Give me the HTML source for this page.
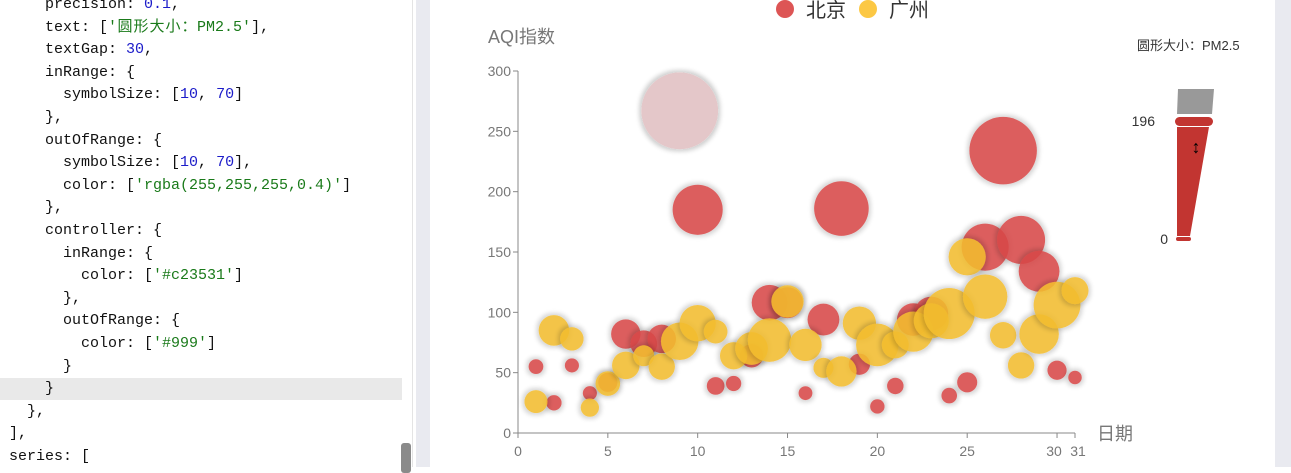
<!DOCTYPE html>
<html><head><meta charset="utf-8"><style>
html,body{margin:0;padding:0;width:1291px;height:467px;overflow:hidden;background:#fff;font-family:"Liberation Sans","Noto Sans CJK SC",sans-serif}
#code{position:absolute;left:0;top:0;width:403px;height:467px;overflow:hidden;background:#fff}
.ln{position:absolute;left:0;width:402px;height:22.6px;line-height:22.6px;font-family:"Liberation Mono","Noto Sans CJK SC",monospace;font-size:15px;color:#111;white-space:pre}
.n{color:#1c1cc9}.s{color:#1a7a1a}
.w{display:inline-block;width:16px;text-align:center}
#hl{position:absolute;left:0;top:378px;width:402px;height:22px;background:#e9e9e9}
#sep{position:absolute;left:412px;top:0;width:1px;height:467px;background:#e4e4e4}
#gap{position:absolute;left:416px;top:0;width:14px;height:467px;background:#e9eaf0}
#gapr{position:absolute;left:1275px;top:0;width:16px;height:467px;background:#e9eaf0}
#thumb{position:absolute;left:401px;top:443px;width:10px;height:30px;border-radius:3px;background:#8a8a8a}
svg{position:absolute;left:0;top:0}
</style></head><body>
<div id="code">
<div id="hl"></div>
<div class="ln" style="top:-6px">     precision: <span class="n">0.1</span>,</div>
<div class="ln" style="top:16.6px">     text: [<span class="s">'<span class="w">圆</span><span class="w">形</span><span class="w">大</span><span class="w">小</span><span class="w">：</span>PM2.5'</span>],</div>
<div class="ln" style="top:39.2px">     textGap: <span class="n">30</span>,</div>
<div class="ln" style="top:61.8px">     inRange: {</div>
<div class="ln" style="top:84.4px">       symbolSize: [<span class="n">10</span>, <span class="n">70</span>]</div>
<div class="ln" style="top:107px">     },</div>
<div class="ln" style="top:129.6px">     outOfRange: {</div>
<div class="ln" style="top:152.2px">       symbolSize: [<span class="n">10</span>, <span class="n">70</span>],</div>
<div class="ln" style="top:174.8px">       color: [<span class="s">'rgba(255,255,255,0.4)'</span>]</div>
<div class="ln" style="top:197.4px">     },</div>
<div class="ln" style="top:220px">     controller: {</div>
<div class="ln" style="top:242.6px">       inRange: {</div>
<div class="ln" style="top:265.2px">         color: [<span class="s">'#c23531'</span>]</div>
<div class="ln" style="top:287.8px">       },</div>
<div class="ln" style="top:310.4px">       outOfRange: {</div>
<div class="ln" style="top:333px">         color: [<span class="s">'#999'</span>]</div>
<div class="ln" style="top:355.6px">       }</div>
<div class="ln" style="top:378.2px">     }</div>
<div class="ln" style="top:400.8px">   },</div>
<div class="ln" style="top:423.4px"> ],</div>
<div class="ln" style="top:446px"> series: [</div>
</div>
<div id="thumb"></div>
<div id="sep"></div>
<div id="gap"></div>
<div id="gapr"></div>
<svg id="chart" width="1291" height="467">
<defs><filter id="halo" x="-50%" y="-50%" width="200%" height="200%"><feMorphology in="SourceAlpha" operator="dilate" radius="2" result="d"/><feGaussianBlur in="d" stdDeviation="2.5"/><feComponentTransfer><feFuncA type="linear" slope="0.2"/></feComponentTransfer><feMerge><feMergeNode/><feMergeNode in="SourceGraphic"/></feMerge></filter></defs>
<g id="axes"></g><g id="marks"></g>
<g>
<circle cx="785" cy="9" r="9" fill="#dd5555"/>
<text x="806" y="17" font-size="20" fill="#333">北京</text>
<circle cx="868" cy="9" r="9" fill="#fcc844"/>
<text x="889" y="17" font-size="20" fill="#333">广州</text>
</g>
<text x="488" y="43" font-size="18" fill="#777">AQI指数</text>
<text x="1097" y="440" font-size="18" fill="#777">日期</text>
<g>
<text x="1137" y="50" font-size="13" fill="#333">圆形大小：PM2.5</text>
<path d="M1178 89 L1214 89 L1212 114 L1177 114 Z" fill="#999"/>
<path d="M1177 127 L1209 127 L1190 236 L1177 236 Z" fill="#c23531"/>
<rect x="1175" y="117" width="38" height="9" rx="4.5" fill="#c23531"/>
<rect x="1176" y="237" width="15" height="4" rx="2" fill="#c23531"/>
<text x="1155" y="126" font-size="14" fill="#333" text-anchor="end">196</text>
<text x="1168" y="244" font-size="14" fill="#333" text-anchor="end">0</text>
<text x="1196" y="153" font-size="18" text-anchor="middle" fill="#000">↕</text>
</g>
</svg>
<script>
const days=[1,2,3,4,5,6,7,8,9,10,11,12,13,14,15,16,17,18,19,20,21,22,23,24,25,26,27,28,29,30,31];
const bjAqi=[55,25,56,33,42,82,74,78,267,185,39,41,64,108,108,33,94,186,57,22,39,94,99,31,42,154,234,160,134,52,46];
const bjPm=[9,11,7,7,24,58,49,55,216,127,19,11,38,79,63,6,66,142,31,8,15,69,73,12,27,117,185,120,96,24,5];
const gzAqi=[26,85,78,21,41,56,64,55,76,91,84,64,70,77,109,73,54,51,91,73,73,84,93,99,146,113,81,56,82,106,118];
const gzPm=[37,62,38,21,42,52,30,48,85,81,39,51,69,105,68,68,27,61,71,102,50,94,77,130,84,108,48,48,92,116,50];
const yTicks=[0,50,100,150,200,250,300];
const xTicks=[0,5,10,15,20,25,30,31];
const X=d=>518+d*(557/31);
const Y=v=>433-v*(362/300);
const S=p=>12+p*0.3;
const NS='http://www.w3.org/2000/svg';
const ax=document.getElementById('axes'),mk=document.getElementById('marks');
function el(t,a,p){const e=document.createElementNS(NS,t);for(const k in a)e.setAttribute(k,a[k]);p.appendChild(e);return e;}
let l=el('line',{x1:518,y1:Y(300),x2:518,y2:433,stroke:'#888'},ax);


l=el('line',{x1:518,y1:433,x2:X(31),y2:433,stroke:'#888'},ax);


yTicks.forEach(v=>{
 const t=el('line',{x1:513,y1:Y(v),x2:518,y2:Y(v),stroke:'#888'},ax);
 
 
 const tx=el('text',{x:511,y:Y(v)+5,'font-size':14,fill:'#777','text-anchor':'end'},ax);tx.textContent=v;
 
 
});
xTicks.forEach(v=>{
 const t=el('line',{x1:X(v),y1:433,x2:X(v),y2:438,stroke:'#888'},ax);
 
 
 const tx=el('text',{x:X(v)+(v==30?-3:v==31?3:0),y:456,'font-size':14,fill:'#777','text-anchor':'middle'},ax);tx.textContent=v;
 
 
});
function series(aqi,pm,col,name){
 days.forEach((d,i)=>{
  const out=pm[i]>196;
  const c=el('circle',{cx:X(d),cy:Y(aqi[i]),r:S(pm[i])/2,fill:out?'#e4c7c9':col,'fill-opacity':out?1:0.85,filter:'url(#halo)'},mk);
  
  
 });
}
series(bjAqi,bjPm,'#d94848','bubble-beijing');
series(gzAqi,gzPm,'#f4be30','bubble-guangzhou');
</script>
</body></html>
